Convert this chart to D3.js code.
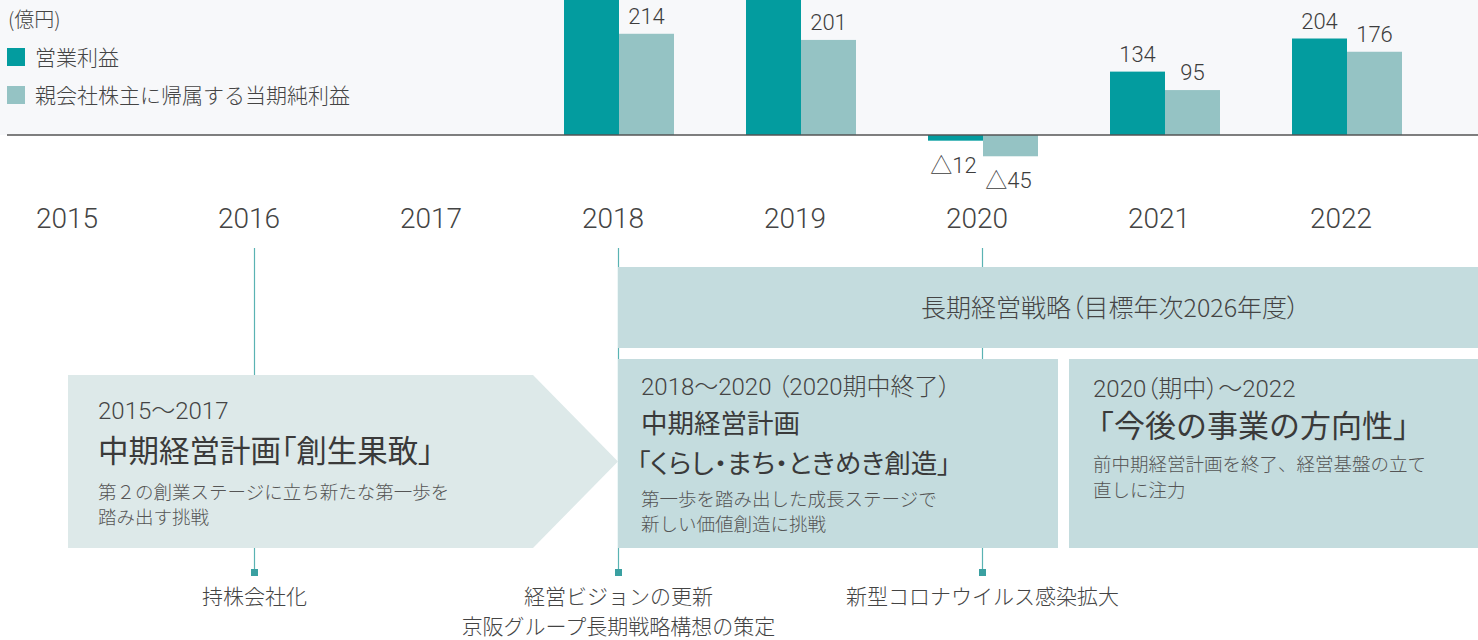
<!DOCTYPE html>
<html>
<head>
<meta charset="utf-8">
<script src="https://cdn.jsdelivr.net/npm/d3@7"></script>
<style>
  body { margin: 0; background: #fff; }
  svg { display: block; }
  text { font-family: "Noto Sans CJK JP", "Noto Sans", sans-serif; font-weight: 300; fill: #444; }
  .num { font-family: Roboto, "Noto Sans CJK JP", sans-serif; font-weight: 300; }
  .palt { font-feature-settings: "palt"; }
  .title { font-weight: 400; }
</style>
</head>
<body>
<svg id="chart" width="1478" height="640"></svg>
<script>
// ---- data -------------------------------------------------------------
const yearTicks = [2015, 2016, 2017, 2018, 2019, 2020, 2021, 2022];
const barYears = [2018, 2019, 2020, 2021, 2022];
const seriesKeys = ["op", "net"];
const seriesNames = ["営業利益", "親会社株主に帰属する当期純利益"];
const operatingProfit = [300, 306, -12, 134, 204];   // 億円
const netProfit = [214, 201, -45, 95, 176];          // 億円
const unitLabel = "(億円)";

const milestoneYears = [2016, 2018, 2020];
const milestoneLabels = [
  ["持株会社化"],
  ["経営ビジョンの更新", "京阪グループ長期戦略構想の策定"],
  ["新型コロナウイルス感染拡大"]
];

const longTermTitle = "長期経営戦略（目標年次2026年度）";
const planPeriods = ["2015〜2017", "2018〜2020 （2020期中終了）", "2020（期中）〜2022"];
const planTitles = [
  ["中期経営計画「創生果敢」"],
  ["中期経営計画", "「くらし・まち・ときめき創造」"],
  ["「今後の事業の方向性」"]
];
const planNotes = [
  ["第２の創業ステージに立ち新たな第一歩を", "踏み出す挑戦"],
  ["第一歩を踏み出した成長ステージで", "新しい価値創造に挑戦"],
  ["前中期経営計画を終了、経営基盤の立て", "直しに注力"]
];

// ---- setup ------------------------------------------------------------
const W = 1478, H = 640;
const svg = d3.select("#chart");
const colors = { op: "#039c9f", net: "#95c3c4" };

const x = d3.scaleLinear().domain([2015, 2022]).range([73, 1347]);
const inner = d3.scaleBand().domain(seriesKeys).range([-55, 55]).padding(0);
const y = d3.scaleLinear().domain([0, 200]).range([135, 135 - 94.6]);

// plot band background
svg.append("rect").attr("x", 0).attr("y", 0).attr("width", W).attr("height", y(0))
  .attr("fill", "#f7f8fa");

// ---- bars -------------------------------------------------------------
const rows = barYears.map((yr, i) => ({ year: yr, op: operatingProfit[i], net: netProfit[i] }));
const flat = rows.flatMap(r => seriesKeys.map(k => ({ year: r.year, key: k, value: r[k] })));

svg.append("g").selectAll("rect").data(flat).join("rect")
  .attr("x", d => x(d.year) + inner(d.key))
  .attr("width", inner.bandwidth())
  .attr("y", d => Math.min(y(d.value), y(0)))
  .attr("height", d => Math.abs(y(d.value) - y(0)))
  .attr("fill", d => colors[d.key]);

// value labels (only those that fall inside the drawing area)
const fmt = v => v < 0 ? "△" + Math.abs(v) : String(v);
svg.append("g").selectAll("text")
  .data(flat.filter(d => y(d.value) - 10 > 18))
  .join("text")
  .attr("class", "num")
  .attr("x", d => x(d.year) + inner(d.key) + inner.bandwidth() / 2 + (d.value < 0 ? -2 : 0))
  .attr("y", d => d.value >= 0 ? y(d.value) - 10 : y(d.value) + 32)
  .attr("text-anchor", "middle")
  .attr("font-size", 22)
  .style("fill", "#3d3d3d")
  .text(d => fmt(d.value));

// zero line
svg.append("line").attr("x1", 7).attr("x2", W).attr("y1", y(0)).attr("y2", y(0))
  .attr("stroke", "#555").attr("stroke-width", 1.6);

// ---- legend -----------------------------------------------------------
svg.append("text").attr("x", 8).attr("y", 27).attr("font-size", 20).text(unitLabel);
const lg = svg.append("g").selectAll("g").data(seriesKeys).join("g")
  .attr("transform", (d, i) => `translate(7, ${48 + i * 38})`);
lg.append("rect").attr("width", 18).attr("height", 18).attr("fill", d => colors[d]);
lg.append("text").attr("x", 28).attr("y", 17).attr("font-size", 21)
  .text((d, i) => seriesNames[i]);

// ---- year axis labels -------------------------------------------------
svg.append("g").selectAll("text").data(yearTicks).join("text")
  .attr("class", "num")
  .attr("x", d => x(d) - 6)
  .attr("y", 228)
  .attr("text-anchor", "middle")
  .attr("font-size", 28)
  .style("fill", "#444")
  .text(d => d);

// ---- milestone lines ---------------------------------------------------
const ms = svg.append("g").selectAll("g").data(milestoneYears).join("g");
ms.append("line")
  .attr("x1", d => x(d) - 0.5).attr("x2", d => x(d) - 0.5)
  .attr("y1", 248).attr("y2", 573)
  .attr("stroke", "#5ab3b3").attr("stroke-width", 1.2);
ms.append("rect")
  .attr("x", d => x(d) - 4).attr("y", 569).attr("width", 7).attr("height", 7)
  .attr("fill", "#3aa0a1");
ms.each(function (d, i) {
  d3.select(this).selectAll("text").data(milestoneLabels[i]).join("text")
    .attr("x", x(d) - 0.5)
    .attr("y", (t, j) => 604 + j * 30)
    .attr("text-anchor", "middle")
    .attr("font-size", 21)
    .text(t => t);
});

// ---- plan boxes -------------------------------------------------------
const boxTop = 359, boxBottom = 548;
const x18 = x(2018) - 1;

// long-term strategy band
svg.append("rect").attr("x", x18).attr("y", 267).attr("width", W - x18).attr("height", 81)
  .attr("fill", "#c4dcde");
svg.append("text").attr("class", "palt").attr("x", 921).attr("y", 317).attr("font-size", 25)
  .text(longTermTitle);

// first plan: arrow shape ending at 2018
const b1 = { left: 68, shoulder: 533, top: 375, bottom: 548 };
svg.append("path")
  .attr("d", d3.line()([
    [b1.left, b1.top], [b1.shoulder, b1.top], [x18, (b1.top + b1.bottom) / 2],
    [b1.shoulder, b1.bottom], [b1.left, b1.bottom]
  ]) + "Z")
  .attr("fill", "#dde9e9");

// second and third plan boxes
svg.append("rect").attr("x", x18).attr("y", boxTop).attr("width", 1058 - x18)
  .attr("height", boxBottom - boxTop).attr("fill", "#c4dcde");
svg.append("rect").attr("x", 1069).attr("y", boxTop).attr("width", W - 1069)
  .attr("height", boxBottom - boxTop).attr("fill", "#c4dcde");

// box texts
const boxText = [
  { x: 98,   head: 419, title: [462],      titleSize: 30.5, notes: [499, 524], palt: [true] },
  { x: 641,  head: 395, title: [433, 473], titleSize: 26.5, notes: [506, 531], palt: [false, true] },
  { x: 1093, head: 397, title: [437],      titleSize: 31,   notes: [471, 497], palt: [false] }
];
boxText.forEach((b, i) => {
  const g = svg.append("g");
  g.append("text").attr("class", "num palt").attr("x", b.x).attr("y", b.head)
    .attr("font-size", 24).text(planPeriods[i]);
  planTitles[i].forEach((t, j) => {
    g.append("text")
      .attr("x", b.x - (t.startsWith("「") ? (i === 1 ? 4 : 10) : 0))
      .attr("y", b.title[j])
      .attr("class", b.palt[j] ? "title palt" : "title")
      .attr("font-size", b.titleSize).style("fill", "#3a3a3a").text(t);
  });
  planNotes[i].forEach((t, j) => {
    g.append("text").attr("x", b.x).attr("y", b.notes[j])
      .attr("font-size", 18.5).style("fill", "#555").text(t);
  });
});
</script>
</body>
</html>
